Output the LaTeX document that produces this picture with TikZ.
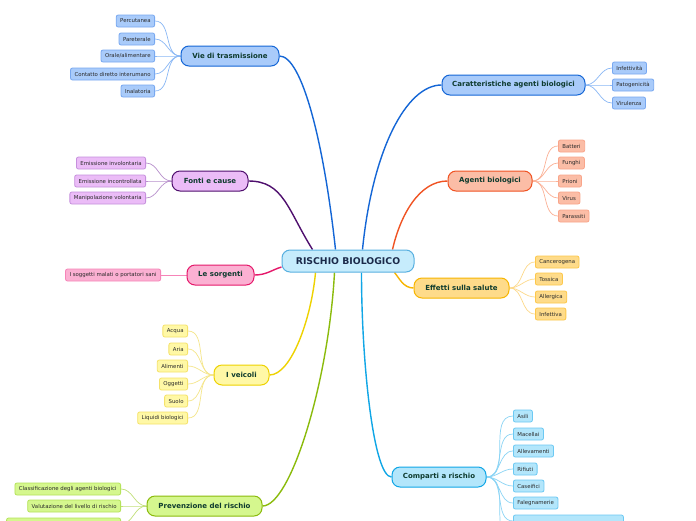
\documentclass[tikz,border=0pt]{standalone}
\usepackage{fontspec}
\setmainfont{DejaVu Sans}
\usetikzlibrary{backgrounds}
\definecolor{txtc}{HTML}{1B2A4A}
\definecolor{txts}{HTML}{0E3B2E}
\definecolor{txtl}{HTML}{2A2A2A}
\definecolor{cfill}{HTML}{C6ECFC}\definecolor{cdraw}{HTML}{58B0E0}
\definecolor{bluD}{HTML}{1466D6}\definecolor{bluF}{HTML}{A9CBFA}\definecolor{bluL}{HTML}{78A8F0}\definecolor{bluC}{HTML}{8AB8F5}
\definecolor{oraD}{HTML}{F05323}\definecolor{oraF}{HTML}{FBBDA6}\definecolor{oraL}{HTML}{F9A58A}\definecolor{oraC}{HTML}{FBB196}
\definecolor{yorD}{HTML}{F7B500}\definecolor{yorF}{HTML}{FEDB8A}\definecolor{yorL}{HTML}{FDC84A}\definecolor{yorC}{HTML}{FDD98A}
\definecolor{purD}{HTML}{4F0F6E}\definecolor{purF}{HTML}{EBBCF7}\definecolor{purL}{HTML}{C690DD}\definecolor{purC}{HTML}{B890CC}
\definecolor{pinD}{HTML}{E5186A}\definecolor{pinF}{HTML}{FBB0D2}\definecolor{pinL}{HTML}{F684B8}\definecolor{pinC}{HTML}{F684B8}
\definecolor{yelD}{HTML}{EED200}\definecolor{yelF}{HTML}{FFF8A6}\definecolor{yelL}{HTML}{F5E26A}\definecolor{yelC}{HTML}{F5E68A}
\definecolor{greD}{HTML}{8BBB0C}\definecolor{greF}{HTML}{D5F78E}\definecolor{greL}{HTML}{B5E35A}\definecolor{greC}{HTML}{C2E07A}
\definecolor{lblD}{HTML}{10A6E6}\definecolor{lblF}{HTML}{B3E6FB}\definecolor{lblL}{HTML}{6CC9F3}\definecolor{lblC}{HTML}{8AD4F5}
\tikzset{
  centre/.style={draw=cdraw, fill=cfill, line width=1pt, rounded corners=8pt, minimum height=22pt, text=txtc, font=\bfseries\fontsize{9.3}{10}\selectfont, inner sep=0pt},
  sub/.style={line width=1pt, rounded corners=8pt, minimum height=20pt, text=txts, font=\bfseries\fontsize{7}{8}\selectfont, inner sep=0pt},
  leaf/.style={line width=0.8pt, rounded corners=2pt, minimum height=12pt, inner xsep=4pt, inner ysep=0pt, text=txtl, font=\fontsize{5.4}{6}\selectfont},
  mainline/.style={line width=1.4pt},
  leafline/.style={line width=0.7pt},
}
\begin{document}
\begin{tikzpicture}[x=1pt,y=-1pt]
\useasboundingbox (0,0) rectangle (696,520);
\clip (0,0) rectangle (696,520);
% centre
\node[centre, minimum width=132pt] (c) at (348,261) {RISCHIO BIOLOGICO};
% sub nodes
\node[sub, draw=bluD, fill=bluF, minimum width=98pt] (vie) at (230,56) {Vie di trasmissione};
\node[sub, draw=bluD, fill=bluF, minimum width=143pt] (car) at (513.5,85) {Caratteristiche agenti biologici};
\node[sub, draw=oraD, fill=oraF, minimum width=84pt] (age) at (490,181) {Agenti biologici};
\node[sub, draw=yorD, fill=yorF, minimum width=95pt] (eff) at (461.5,288) {Effetti sulla salute};
\node[sub, draw=purD, fill=purF, minimum width=76pt] (fon) at (210,181) {Fonti e cause};
\node[sub, draw=pinD, fill=pinF, minimum width=67pt] (sor) at (220.5,275) {Le sorgenti};
\node[sub, draw=yelD, fill=yelF, minimum width=55pt] (vei) at (241.5,375) {I veicoli};
\node[sub, draw=greD, fill=greF, minimum width=115pt] (pre) at (204.5,506) {Prevenzione del rischio};
\node[sub, draw=lblD, fill=lblF, minimum width=94pt] (com) at (439,477) {Comparti a rischio};
% leaves: Vie
\begin{scope}[every node/.style={leaf, draw=bluL, fill=bluF, anchor=east}]
\node (v1) at (155,21) {Percutanea};
\node (v2) at (155,39) {Pareterale};
\node (v3) at (155,56) {Orale/alimentare};
\node (v4) at (155,74) {Contatto diretto interumano};
\node (v5) at (155,91) {Inalatoria};
\end{scope}
\begin{scope}[every node/.style={leaf, draw=bluL, fill=bluF, anchor=west}]
\node (k1) at (612,68) {Infettività};
\node (k2) at (612,85) {Patogenicità};
\node (k3) at (612,103) {Virulenza};
\end{scope}
\begin{scope}[every node/.style={leaf, draw=oraL, fill=oraF, anchor=west}]
\node (a1) at (558,146) {Batteri};
\node (a2) at (558,163) {Funghi};
\node (a3) at (558,181) {Prioni};
\node (a4) at (558,198) {Virus};
\node (a5) at (558,216) {Parassiti};
\end{scope}
\begin{scope}[every node/.style={leaf, draw=yorL, fill=yorF, anchor=west}]
\node (e1) at (535,262) {Cancerogena};
\node (e2) at (535,279) {Tossica};
\node (e3) at (535,297) {Allergica};
\node (e4) at (535,314) {Infettiva};
\end{scope}
\begin{scope}[every node/.style={leaf, draw=purL, fill=purF, anchor=east}]
\node (f1) at (146,163) {Emissione involontaria};
\node (f2) at (146,181) {Emissione incontrollata};
\node (f3) at (146,198) {Manipolazione volontaria};
\end{scope}
\begin{scope}[every node/.style={leaf, draw=pinL, fill=pinF, anchor=east}]
\node (s1) at (161,275) {I soggetti malati o portatori sani};
\end{scope}
\begin{scope}[every node/.style={leaf, draw=yelL, fill=yelF, anchor=east}]
\node (i1) at (188,331) {Acqua};
\node (i2) at (188,349) {Aria};
\node (i3) at (188,366) {Alimenti};
\node (i4) at (188,384) {Oggetti};
\node (i5) at (188,401) {Suolo};
\node (i6) at (188,418) {Liquidi biologici};
\end{scope}
\begin{scope}[every node/.style={leaf, draw=greL, fill=greF, anchor=east}]
\node (p1) at (121,489) {Classificazione degli agenti biologici};
\node (p2) at (121,506) {Valutazione del livello di rischio};
\node[minimum width=114pt] (p3) at (121,524) {};
\end{scope}
\begin{scope}[every node/.style={leaf, draw=lblL, fill=lblF, anchor=west}]
\node (m1) at (513,416) {Asili};
\node (m2) at (513,434) {Macellai};
\node (m3) at (513,451) {Allevamenti};
\node (m4) at (513,469) {Rifiuti};
\node (m5) at (513,486) {Caseifici};
\node (m6) at (513,503) {Falegnamerie};
\node[minimum width=110pt] (m7) at (513,521) {};
\node[minimum width=60pt] (m8) at (513,539) {};
\end{scope}
% connectors
\begin{scope}[on background layer]
\fill[white] (0,0) rectangle (696,520);
\draw[mainline, draw=purD] (fon.east) .. controls +(35,0) and +(-25,-40) .. ([xshift=31pt]c.north west);
\draw[mainline, draw=bluD] (vie.east) .. controls +(22,0) and +(-12,-110) .. ([xshift=54pt]c.north west);
\draw[mainline, draw=bluD] (car.west) .. controls +(-35,0) and +(10,-100) .. ([xshift=81pt]c.north west);
\draw[mainline, draw=oraD] (age.west) .. controls +(-28,0) and +(8,-35) .. ([xshift=111pt]c.north west);
\draw[mainline, draw=yorD] (eff.west) .. controls +(-10,0) and +(5,6) .. ([xshift=113pt]c.south west);
\draw[mainline, draw=lblD] (com.west) .. controls +(-18,0) and +(0,90) .. ([xshift=80pt]c.south west);
\draw[mainline, draw=greD] (pre.east) .. controls +(28,0) and +(-6,110) .. ([xshift=53pt]c.south west);
\draw[mainline, draw=yelD] (vei.east) .. controls +(22,0) and +(-4,45) .. ([xshift=34pt]c.south west);
\draw[mainline, draw=pinD] (sor.east) .. controls +(12,0) and +(-10,3) .. ([yshift=-6pt]c.west);
\foreach \l in {v1,v2,v3,v4,v5} \draw[leafline, draw=bluC] (vie.west) to[out=180,in=0] (\l.east);
\foreach \l in {k1,k2,k3} \draw[leafline, draw=bluC] (car.east) to[out=0,in=180] (\l.west);
\foreach \l in {a1,a2,a3,a4,a5} \draw[leafline, draw=oraC] (age.east) to[out=0,in=180] (\l.west);
\foreach \l in {e1,e2,e3,e4} \draw[leafline, draw=yorC] (eff.east) to[out=0,in=180] (\l.west);
\foreach \l in {f1,f2,f3} \draw[leafline, draw=purC] (fon.west) to[out=180,in=0] (\l.east);
\draw[leafline, draw=pinC] (sor.west) -- (s1.east);
\foreach \l in {i1,i2,i3,i4,i5,i6} \draw[leafline, draw=yelC] (vei.west) to[out=180,in=0] (\l.east);
\foreach \l in {p1,p2,p3} \draw[leafline, draw=greC] (pre.west) to[out=180,in=0] (\l.east);
\foreach \l in {m1,m2,m3,m4,m5,m6,m7,m8} \draw[leafline, draw=lblC] (com.east) to[out=0,in=180] (\l.west);
\end{scope}
\end{tikzpicture}
\end{document}
